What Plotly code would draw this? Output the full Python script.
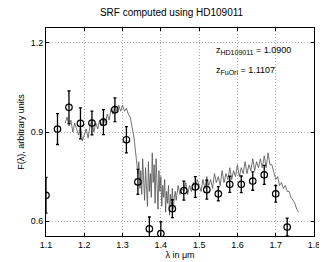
import plotly.graph_objects as go

# Photometric points (lambda in micron, flux, error)
pt_wl = [1.10, 1.13, 1.16, 1.19, 1.22, 1.25, 1.28, 1.31, 1.34, 1.37, 1.40,
         1.43, 1.46, 1.49, 1.52, 1.55, 1.58, 1.61, 1.64, 1.67, 1.70, 1.73]
pt_flux = [0.687, 0.910, 0.983, 0.929, 0.930, 0.933, 0.975, 0.874, 0.732, 0.574, 0.558,
           0.642, 0.703, 0.715, 0.706, 0.692, 0.724, 0.724, 0.735, 0.756, 0.692, 0.580]
pt_err = [0.060, 0.052, 0.055, 0.052, 0.040, 0.042, 0.040, 0.044, 0.042, 0.040, 0.040,
          0.030, 0.032, 0.035, 0.032, 0.024, 0.027, 0.028, 0.031, 0.032, 0.028, 0.030]

# Spectrum
spec_wl = [1.150, 1.155, 1.160, 1.165, 1.170, 1.175, 1.180, 1.185, 1.190, 1.195,
           1.200, 1.205, 1.210, 1.215, 1.220, 1.225, 1.230, 1.235, 1.240, 1.245,
           1.250, 1.255, 1.260, 1.265, 1.270, 1.275, 1.280, 1.285, 1.290, 1.295,
           1.300, 1.305, 1.310, 1.315, 1.320, 1.325, 1.330, 1.335,
           1.3400, 1.3425, 1.3450, 1.3475, 1.3500, 1.3525, 1.3550, 1.3575, 1.3600, 1.3625,
           1.3650, 1.3675, 1.3700, 1.3725, 1.3750, 1.3775, 1.3800, 1.3825, 1.3850, 1.3875,
           1.3900, 1.3925, 1.3950, 1.3975, 1.4000, 1.4025, 1.4050, 1.4075, 1.4100, 1.4125,
           1.4150, 1.4175, 1.4200, 1.4225, 1.4250, 1.4275, 1.4300, 1.4325, 1.4350, 1.4375,
           1.4400,
           1.445, 1.450, 1.455, 1.460, 1.465, 1.470, 1.475, 1.480, 1.485, 1.490,
           1.495, 1.500, 1.505, 1.510, 1.515, 1.520, 1.525, 1.530, 1.535, 1.540,
           1.545, 1.550, 1.555, 1.560, 1.565, 1.570, 1.575, 1.580, 1.585, 1.590,
           1.595, 1.600, 1.605, 1.610, 1.615, 1.620, 1.625, 1.630, 1.635, 1.640,
           1.645, 1.650, 1.655, 1.660, 1.665, 1.670, 1.675, 1.680, 1.685, 1.690,
           1.695, 1.700, 1.705, 1.710, 1.715, 1.720, 1.725, 1.730, 1.735, 1.740,
           1.745, 1.750, 1.755, 1.760]
spec_flux = [0.93, 0.95, 0.92, 0.94, 0.90, 0.93, 0.91, 0.89, 0.92, 0.87,
             0.89, 0.91, 0.88, 0.92, 0.94, 0.90, 0.93, 0.91, 0.94, 0.92,
             0.95, 0.93, 0.96, 0.94, 0.98, 0.96, 0.99, 0.97, 0.99, 0.97,
             0.99, 0.97, 0.98, 0.96, 0.95, 0.92, 0.88, 0.82,
             0.76, 0.80, 0.71, 0.77, 0.69, 0.81, 0.74, 0.67, 0.78, 0.72,
             0.65, 0.80, 0.70, 0.76, 0.68, 0.83, 0.73, 0.79, 0.66, 0.81,
             0.71, 0.64, 0.77, 0.70, 0.75, 0.65, 0.72, 0.68, 0.74, 0.63,
             0.70, 0.66, 0.72, 0.62, 0.69, 0.65, 0.71, 0.64, 0.68, 0.70,
             0.67,
             0.72, 0.69, 0.71, 0.70, 0.73, 0.69, 0.72, 0.70, 0.73, 0.71,
             0.74, 0.72, 0.70, 0.74, 0.71, 0.75, 0.72, 0.74, 0.71, 0.76,
             0.73, 0.75, 0.72, 0.77, 0.73, 0.76, 0.74, 0.78, 0.74, 0.77,
             0.75, 0.79, 0.75, 0.78, 0.76, 0.80, 0.76, 0.79, 0.77, 0.81,
             0.77, 0.80, 0.78, 0.81, 0.78, 0.82, 0.78, 0.83, 0.79, 0.79,
             0.76, 0.74, 0.75, 0.72, 0.73, 0.71, 0.72, 0.70, 0.70, 0.68,
             0.67, 0.66, 0.64, 0.63]

x_ticks = [1.1, 1.2, 1.3, 1.4, 1.5, 1.6, 1.7, 1.8]
y_ticks = [0.6, 0.9, 1.2]

FONT = "Liberation Sans, Arial, sans-serif"

fig = go.Figure()
fig.add_trace(go.Scatter(
    x=spec_wl, y=spec_flux, mode="lines",
    line=dict(color="#505050", width=0.8), showlegend=False))
fig.add_trace(go.Scatter(
    x=pt_wl, y=pt_flux, mode="markers",
    marker=dict(symbol="circle-open", size=6.5, color="black", line=dict(width=1.2)),
    error_y=dict(type="data", array=pt_err, color="black", thickness=1.3, width=1.5),
    showlegend=False))

axis_common = dict(
    showline=True, linecolor="black", linewidth=1, mirror="allticks",
    ticks="inside", ticklen=3, tickcolor="black",
    showgrid=True, gridcolor="#b0b0b0", griddash="1px,2px", gridwidth=1,
    zeroline=False, tickfont=dict(family=FONT, size=9, color="black"))

fig.update_xaxes(range=[1.1, 1.8], tickvals=x_ticks,
                 ticktext=[f"{v:.1f}" for v in x_ticks],
                 title=dict(text="λ in μm", font=dict(family=FONT, size=9, color="black"), standoff=2),
                 **axis_common)
fig.update_yaxes(range=[0.55, 1.25], tickvals=y_ticks,
                 ticktext=[f"{v:.1f}" for v in y_ticks],
                 title=dict(text="F(λ), arbitrary units", font=dict(family=FONT, size=9, color="black"), standoff=4),
                 **axis_common)

fig.add_annotation(x=1.54, y=1.175, xref="x", yref="y", xanchor="left", showarrow=False,
                   text="z<sub><span style='font-size:7px'>HD109011</span></sub> = 1.0900",
                   font=dict(family=FONT, size=9, color="black"))
fig.add_annotation(x=1.54, y=1.108, xref="x", yref="y", xanchor="left", showarrow=False,
                   text="z<sub><span style='font-size:7px'>FuOri</span></sub> = 1.1107",
                   font=dict(family=FONT, size=9, color="black"))

fig.update_layout(
    width=327, height=262,
    margin=dict(l=31, r=21, t=20, b=25),
    paper_bgcolor="white", plot_bgcolor="white",
    title=dict(text="SRF computed using HD109011", x=0.5, xanchor="center",
               y=0.995, yanchor="top", yref="container",
               font=dict(family=FONT, size=10, color="black")),
)

fig.write_html("out.html")
